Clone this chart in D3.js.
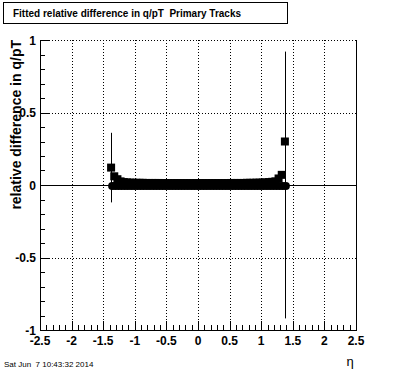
<!DOCTYPE html>
<html>
<head>
<meta charset="utf-8">
<script src="https://d3js.org/d3.v7.min.js"></script>
<style>
  body { margin: 0px; background: #fff; }
  text { font-family: "Liberation Sans", Arial, sans-serif; white-space: pre; }
</style>
</head>
<body>
<svg id="chart" width="396" height="372"></svg>
<script>
// bin centres in eta (width 0.05, -1.4 .. 1.4)
var etaBins = [
  -1.375,-1.325,-1.275,-1.225,-1.175,-1.125,-1.075,-1.025,-0.975,-0.925,
  -0.875,-0.825,-0.775,-0.725,-0.675,-0.625,-0.575,-0.525,-0.475,-0.425,
  -0.375,-0.325,-0.275,-0.225,-0.175,-0.125,-0.075,-0.025, 0.025, 0.075,
   0.125, 0.175, 0.225, 0.275, 0.325, 0.375, 0.425, 0.475, 0.525, 0.575,
   0.625, 0.675, 0.725, 0.775, 0.825, 0.875, 0.925, 0.975, 1.025, 1.075,
   1.125, 1.175, 1.225, 1.275, 1.325, 1.375
];
// fitted relative difference (square markers)
var relDiff = [
  0.120,0.060,0.040,0.025,0.020,0.018,0.016,0.016,0.015,0.015,
  0.015,0.014,0.014,0.014,0.014,0.014,0.013,0.013,0.013,0.013,
  0.013,0.013,0.013,0.013,0.013,0.013,0.013,0.013,0.013,0.013,
  0.013,0.013,0.013,0.013,0.013,0.013,0.013,0.013,0.014,0.014,
  0.014,0.014,0.014,0.015,0.015,0.015,0.016,0.016,0.017,0.018,
  0.020,0.022,0.025,0.045,0.070,0.300
];
var relDiffErr = [
  0.240,0.010,0.006,0.004,0.003,0.002,0.002,0.002,0.002,0.002,
  0.002,0.002,0.002,0.002,0.002,0.002,0.002,0.002,0.002,0.002,
  0.002,0.002,0.002,0.002,0.002,0.002,0.002,0.002,0.002,0.002,
  0.002,0.002,0.002,0.002,0.002,0.002,0.002,0.002,0.002,0.002,
  0.002,0.002,0.002,0.002,0.002,0.002,0.002,0.002,0.002,0.002,
  0.003,0.003,0.004,0.006,0.010,0.010
];
// second series at zero (circle markers), last bin with large error
var zeroLine = [
  0,0,0,0,0,0,0,0,0,0,0,0,0,0,0,0,0,0,0,0,0,0,0,0,0,0,0,0,
  0,0,0,0,0,0,0,0,0,0,0,0,0,0,0,0,0,0,0,0,0,0,0,0,0,0,0,0
];
var zeroErr = [
  0,0,0,0,0,0,0,0,0,0,0,0,0,0,0,0,0,0,0,0,0,0,0,0,0,0,0,0,
  0,0,0,0,0,0,0,0,0,0,0,0,0,0,0,0,0,0,0,0,0,0,0,0,0,0,0,0.92
];
var xMajor = [-2.5,-2,-1.5,-1,-0.5,0,0.5,1,1.5,2,2.5];
var yMajor = [-1,-0.5,0,0.5,1];

var svg = d3.select("#chart");
var padL = 40, padR = 356, padT = 40, padB = 330;

var x = d3.scaleLinear().domain([-2.5, 2.5]).range([padL, padR]);
var y = d3.scaleLinear().domain([-1, 1]).range([padB, padT]);

svg.append("rect").attr("width", 396).attr("height", 372).attr("fill", "#fff");

// grid (dotted)
var grid = svg.append("g").attr("stroke", "#000").attr("stroke-width", 1)
  .attr("stroke-dasharray", "1,2").attr("shape-rendering", "crispEdges");
grid.selectAll(".gx").data(xMajor.slice(1, -1)).enter().append("line")
  .attr("x1", function(d) { return Math.round(x(d)) + 0.5; })
  .attr("x2", function(d) { return Math.round(x(d)) + 0.5; })
  .attr("y1", padT).attr("y2", padB);
grid.selectAll(".gy").data([0.5, -0.5, 1]).enter().append("line")
  .attr("y1", function(d) { return Math.round(y(d)) + 0.5; })
  .attr("y2", function(d) { return Math.round(y(d)) + 0.5; })
  .attr("x1", padL).attr("x2", padR);

// zero line
svg.append("line").attr("x1", padL).attr("x2", padR)
  .attr("y1", Math.round(y(0)) + 0.5).attr("y2", Math.round(y(0)) + 0.5)
  .attr("stroke", "#000").attr("shape-rendering", "crispEdges");

// frame: left, bottom, right solid
svg.append("path")
  .attr("d", "M" + (padL + 0.5) + "," + padT + "V" + (padB + 0.5) + "H" + (padR + 0.5) + "V" + padT)
  .attr("fill", "none").attr("stroke", "#000").attr("shape-rendering", "crispEdges");

// ticks
var tk = svg.append("g").attr("stroke", "#000").attr("shape-rendering", "crispEdges");
var xMinor = d3.range(-25, 26).map(function(i) { return i / 10; });
tk.selectAll(".tx").data(xMinor).enter().append("line")
  .attr("x1", function(d) { return Math.round(x(d)) + 0.5; })
  .attr("x2", function(d) { return Math.round(x(d)) + 0.5; })
  .attr("y1", padB)
  .attr("y2", function(d, i) { return padB - (i % 5 === 0 ? 9 : 5); });
var yMinor = d3.range(-10, 11).map(function(i) { return i / 10; });
tk.selectAll(".ty").data(yMinor).enter().append("line")
  .attr("y1", function(d) { return Math.round(y(d)) + 0.5; })
  .attr("y2", function(d) { return Math.round(y(d)) + 0.5; })
  .attr("x1", padL)
  .attr("x2", function(d, i) { return padL + (i % 5 === 0 ? 9 : 5); });

// tick labels
svg.selectAll(".lx").data(xMajor).enter().append("text")
  .attr("x", function(d) { return x(d); }).attr("y", 345)
  .attr("text-anchor", "middle").attr("font-size", 12).attr("font-weight", "bold")
  .text(function(d) { return d; });
svg.selectAll(".ly").data(yMajor).enter().append("text")
  .attr("x", 36).attr("y", function(d) { return y(d) + 4.5; })
  .attr("text-anchor", "end").attr("font-size", 12).attr("font-weight", "bold")
  .text(function(d) { return d; });

// error bars
var pts = svg.append("g");
etaBins.forEach(function(e, i) {
  if (relDiffErr[i] > 0.02) {
    pts.append("line").attr("x1", Math.round(x(e)) + 0.5).attr("x2", Math.round(x(e)) + 0.5)
      .attr("y1", y(relDiff[i] + relDiffErr[i])).attr("y2", y(relDiff[i] - relDiffErr[i]))
      .attr("stroke", "#000");
  }
  if (zeroErr[i] > 0) {
    pts.append("line").attr("x1", Math.round(x(e)) + 0.5).attr("x2", Math.round(x(e)) + 0.5)
      .attr("y1", y(zeroLine[i] + zeroErr[i])).attr("y2", y(zeroLine[i] - zeroErr[i]))
      .attr("stroke", "#000");
  }
});

// circle markers at zero
pts.selectAll(".c").data(etaBins).enter().append("circle")
  .attr("cx", function(d) { return x(d) + 1; })
  .attr("cy", function(d, i) { return y(zeroLine[i]) + 1; })
  .attr("r", 4).attr("fill", "#000");

// square markers
pts.selectAll(".s").data(etaBins).enter().append("rect")
  .attr("x", function(d) { return x(d) - 4; })
  .attr("y", function(d, i) { return y(relDiff[i]) - 4; })
  .attr("width", 8).attr("height", 8).attr("fill", "#000");

// title box
svg.append("rect").attr("x", 3.5).attr("y", 2.5).attr("width", 284).attr("height", 21)
  .attr("fill", "#fff").attr("stroke", "#000");
svg.append("text").attr("x", 13).attr("y", 17).attr("font-size", 11).attr("font-weight", "bold")
  .attr("textLength", 228).attr("lengthAdjust", "spacingAndGlyphs")
  .text("Fitted relative difference in q/pT  Primary Tracks");

// axis titles
svg.append("text").attr("transform", "translate(21,40) rotate(-90)")
  .attr("text-anchor", "end").attr("font-size", 14).attr("font-weight", "bold")
  .text("relative difference in q/pT");
svg.append("text").attr("x", 350).attr("y", 366).attr("font-size", 13)
  .attr("text-anchor", "middle").text("η");

svg.append("text").attr("x", 4).attr("y", 367).attr("font-size", 8)
  .text("Sat Jun  7 10:43:32 2014");
</script>
</body>
</html>
